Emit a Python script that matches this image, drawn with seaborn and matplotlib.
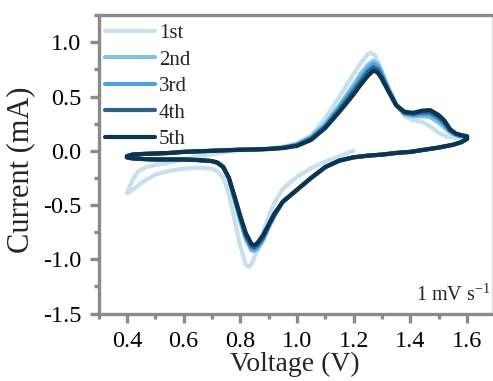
import numpy as np
import pandas as pd
import matplotlib
matplotlib.use("Agg")
import matplotlib.pyplot as plt
import seaborn as sns
from matplotlib.ticker import MultipleLocator

# ---------------- data ----------------
cycle_labels = ["1st", "2nd", "3rd", "4th", "5th"]
colors = ["#c6e0f0", "#85bfe8", "#4aa4e0", "#2c6487", "#0d3450"]

# 1st cycle: starts at OCV (1.2 V), cathodic to 0.4 V, anodic to 1.6 V
v_first = [1.20, 1.18, 1.15, 1.10, 1.05, 1.00, 0.95, 0.92, 0.90, 0.88, 0.86, 0.84, 0.83, 0.82,
           0.80, 0.78, 0.76, 0.74, 0.72, 0.70, 0.65, 0.60, 0.55, 0.50, 0.46, 0.43, 0.41, 0.40,
           0.41, 0.42, 0.44, 0.47, 0.50, 0.55, 0.60, 0.65, 0.70, 0.75, 0.80, 0.85, 0.90, 0.95,
           1.00, 1.05, 1.10, 1.15, 1.20, 1.225, 1.25, 1.26, 1.275, 1.29, 1.32, 1.35, 1.38, 1.41,
           1.44, 1.47, 1.50, 1.53, 1.56, 1.58, 1.60]
i_first = [0.00, -0.02, -0.05, -0.10, -0.16, -0.24, -0.35, -0.48, -0.60, -0.75, -0.92, -1.04, -1.07, -1.05,
           -0.88, -0.64, -0.40, -0.25, -0.19, -0.165, -0.155, -0.165, -0.185, -0.22, -0.28, -0.34, -0.38, -0.39,
           -0.33, -0.27, -0.19, -0.15, -0.13, -0.11, -0.08, -0.05, -0.03, -0.01, 0.005, 0.01, 0.02, 0.04,
           0.07, 0.14, 0.30, 0.50, 0.71, 0.81, 0.89, 0.905, 0.88, 0.80, 0.60, 0.44, 0.32, 0.28,
           0.27, 0.225, 0.165, 0.13, 0.12, 0.12, 0.12]

# cycles 2-5 share the same sweep: 0.4 -> 1.6 -> 0.4 V
v_loop = [0.40, 0.42, 0.45, 0.50, 0.55, 0.60, 0.65, 0.70, 0.75, 0.80, 0.85, 0.90, 0.95, 1.00,
          1.05, 1.10, 1.15, 1.20, 1.225, 1.25, 1.27, 1.285, 1.30, 1.32, 1.35, 1.38, 1.41, 1.44,
          1.47, 1.50, 1.52, 1.54, 1.56, 1.58, 1.60,
          1.60, 1.58, 1.55, 1.50, 1.45, 1.40, 1.35, 1.30, 1.25, 1.20, 1.15, 1.10, 1.05, 1.00,
          0.95, 0.92, 0.90, 0.88, 0.86, 0.85, 0.84, 0.82, 0.80, 0.78, 0.76, 0.74, 0.72, 0.70,
          0.65, 0.60, 0.55, 0.50, 0.45, 0.42, 0.40]

i_second = [-0.05, -0.035, -0.03, -0.025, -0.02, -0.01, -0.005, 0.0, 0.005, 0.01, 0.012, 0.017, 0.03, 0.06,
            0.13, 0.25, 0.42, 0.61, 0.71, 0.79, 0.83, 0.80, 0.72, 0.59, 0.42, 0.335, 0.315, 0.32,
            0.31, 0.26, 0.215, 0.17, 0.145, 0.13, 0.125,
            0.11, 0.08, 0.055, 0.03, 0.01, -0.01, -0.02, -0.035, -0.045, -0.06, -0.09, -0.15, -0.25, -0.36,
            -0.47, -0.60, -0.71, -0.83, -0.91, -0.925, -0.92, -0.82, -0.65, -0.45, -0.26, -0.15, -0.11, -0.095,
            -0.085, -0.08, -0.08, -0.08, -0.075, -0.07, -0.06]
i_third = [-0.05, -0.035, -0.03, -0.025, -0.02, -0.01, -0.005, 0.0, 0.005, 0.01, 0.012, 0.017, 0.028, 0.055,
           0.12, 0.235, 0.40, 0.58, 0.67, 0.76, 0.80, 0.78, 0.70, 0.58, 0.42, 0.345, 0.33, 0.34,
           0.335, 0.29, 0.24, 0.18, 0.15, 0.135, 0.13,
           0.11, 0.08, 0.055, 0.03, 0.01, -0.01, -0.02, -0.035, -0.045, -0.06, -0.09, -0.15, -0.25, -0.36,
           -0.47, -0.60, -0.70, -0.81, -0.89, -0.91, -0.90, -0.80, -0.63, -0.44, -0.255, -0.15, -0.11, -0.095,
           -0.085, -0.08, -0.08, -0.08, -0.075, -0.07, -0.06]
i_fourth = [-0.05, -0.035, -0.03, -0.025, -0.02, -0.01, -0.005, 0.0, 0.005, 0.01, 0.012, 0.017, 0.027, 0.05,
            0.11, 0.22, 0.38, 0.55, 0.64, 0.73, 0.77, 0.75, 0.68, 0.57, 0.42, 0.35, 0.34, 0.355,
            0.355, 0.31, 0.26, 0.19, 0.155, 0.14, 0.13,
            0.11, 0.08, 0.055, 0.03, 0.01, -0.01, -0.02, -0.035, -0.045, -0.06, -0.09, -0.15, -0.25, -0.36,
            -0.47, -0.59, -0.69, -0.80, -0.87, -0.89, -0.88, -0.78, -0.61, -0.43, -0.25, -0.15, -0.11, -0.095,
            -0.085, -0.08, -0.08, -0.08, -0.075, -0.07, -0.06]
i_fifth = [-0.05, -0.035, -0.03, -0.025, -0.02, -0.01, -0.005, 0.0, 0.005, 0.01, 0.012, 0.017, 0.025, 0.045,
           0.10, 0.21, 0.36, 0.52, 0.61, 0.69, 0.74, 0.72, 0.66, 0.56, 0.42, 0.36, 0.35, 0.37,
           0.375, 0.33, 0.28, 0.20, 0.16, 0.145, 0.135,
           0.11, 0.08, 0.055, 0.03, 0.01, -0.01, -0.02, -0.035, -0.045, -0.06, -0.09, -0.15, -0.25, -0.36,
           -0.47, -0.58, -0.68, -0.78, -0.85, -0.87, -0.86, -0.76, -0.60, -0.42, -0.25, -0.15, -0.11, -0.095,
           -0.085, -0.08, -0.08, -0.08, -0.075, -0.07, -0.06]

x_ticks = [0.4, 0.6, 0.8, 1.0, 1.2, 1.4, 1.6]
y_ticks = [-1.5, -1.0, -0.5, 0.0, 0.5, 1.0]

# ---------------- build table ----------------
frames = []
for lab, v, i in zip(cycle_labels,
                     [v_first, v_loop, v_loop, v_loop, v_loop],
                     [i_first, i_second, i_third, i_fourth, i_fifth]):
    frames.append(pd.DataFrame({"Voltage": v, "Current": i, "cycle": lab,
                                "step": np.arange(len(v))}))
df = pd.concat(frames, ignore_index=True)

# ---------------- style ----------------
sns.set_theme(style="ticks")
plt.rcParams["font.family"] = ["Liberation Serif", "DejaVu Serif"]
plt.rcParams["mathtext.fontset"] = "custom"
plt.rcParams["mathtext.rm"] = "Liberation Serif"
plt.rcParams["mathtext.it"] = "Liberation Serif:italic"
plt.rcParams["axes.unicode_minus"] = False

fig = plt.figure(figsize=(4.93, 3.81), dpi=100)
ax = fig.add_axes([98.5 / 493, 1 - 313.5 / 381, (492 - 98.5) / 493, (313.5 - 15) / 381])

sns.lineplot(data=df, x="Voltage", y="Current", hue="cycle", hue_order=cycle_labels,
             palette=colors, sort=False, estimator=None, units="cycle",
             linewidth=3.0, ax=ax)
for ln in ax.get_lines():
    ln.set_solid_joinstyle("round")
    ln.set_solid_capstyle("round")

ax.set_xlim(0.3, 1.688)
ax.set_ylim(-1.5, 1.252)
ax.set_xticks(x_ticks)
ax.set_yticks(y_ticks)
ax.set_xticklabels([f"{t:.1f}" for t in x_ticks])
ax.set_yticklabels([f"{t:.1f}" for t in y_ticks])
ax.xaxis.set_minor_locator(MultipleLocator(0.1))
ax.yaxis.set_minor_locator(MultipleLocator(0.25))

spine_col = "#8a8a8a"
for side in ["left", "bottom", "top"]:
    ax.spines[side].set_color(spine_col)
    ax.spines[side].set_linewidth(2.4)
ax.spines["right"].set_color("#d9d9d9")
ax.spines["right"].set_linewidth(1.0)

ax.tick_params(axis="both", which="major", direction="out", length=6.5, width=2.4,
               color=spine_col, labelsize=17.5, labelcolor="black")
ax.tick_params(axis="both", which="minor", direction="out", length=3.5, width=2.4, color=spine_col)
ax.tick_params(axis="x", which="major", pad=6)
ax.tick_params(axis="y", which="major", pad=6)
ax.tick_params(top=False, right=False, which="both")

ax.set_xlabel("Voltage (V)", fontsize=20, labelpad=0)
ax.set_ylabel("Current (mA)", fontsize=22)
ax.yaxis.set_label_coords(-0.16, 0.48)

handles, labels = ax.get_legend_handles_labels()
ax.legend(handles, labels, loc="upper left", bbox_to_anchor=(0.0, 0.992), frameon=False,
          fontsize=15, handlelength=2.4, handletextpad=0.2, labelspacing=0.33,
          borderaxespad=0.2, borderpad=0.1)

ax.text(0.995, 0.043, "1 mV s$^{\\mathrm{-1}}$", transform=ax.transAxes,
        ha="right", va="baseline", fontsize=14.5)

fig.savefig("out.png", dpi=100)
